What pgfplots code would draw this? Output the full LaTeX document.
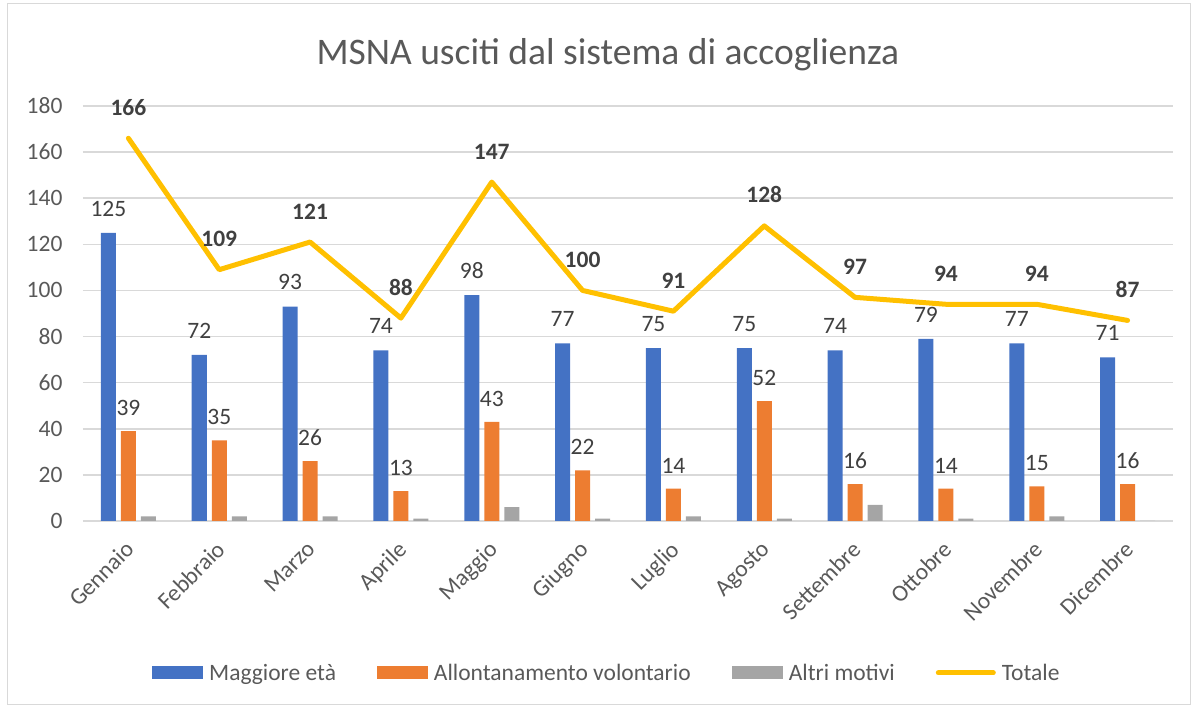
\documentclass[border=0pt]{standalone}
\usepackage{pgfplots}
\pgfplotsset{compat=1.18}
\usepackage{fontspec}
\setmainfont{Carlito}
\definecolor{cblue}{HTML}{4472C4}
\definecolor{corange}{HTML}{ED7D31}
\definecolor{cgray}{HTML}{A5A5A5}
\definecolor{cyel}{HTML}{FFC000}
\definecolor{gridgray}{HTML}{D9D9D9}
\definecolor{tickgray}{HTML}{595959}
\definecolor{labgray}{HTML}{404040}
\pgfplotsset{/pgf/number format/assume math mode=true}
\newcommand{\tfont}{\fontsize{23.5}{28}\selectfont}
\begin{document}
\begin{tikzpicture}[x=1pt,y=1pt]
\path[use as bounding box] (0,0) rectangle (1197,709);
\draw[color=gridgray, line width=1pt] (7,4) rectangle (1190,705);
\begin{axis}[
  at={(83pt,188pt)}, anchor=south west,
  scale only axis, width=1090pt, height=415pt,
  ymin=0, ymax=180, ytick={0,20,...,180},
  xmin=-0.5, xmax=11.5,
  xtick={0,...,11},
  xticklabels={Gennaio,Febbraio,Marzo,Aprile,Maggio,Giugno,Luglio,Agosto,Settembre,Ottobre,Novembre,Dicembre},
  axis line style={draw=none},
  major tick length=0pt,
  ymajorgrids, grid style={color=gridgray, line width=1.5pt},
  tick label style={font=\tfont, color=tickgray},
  yticklabel style={xshift=-17pt},
  xticklabel style={rotate=45, anchor=north east, xshift=-13pt, yshift=-6.5pt},
  clip=false,
  title={MSNA usciti dal sistema di accoglienza},
  title style={at={(0.4816,1.109)}, anchor=center, font=\fontsize{37.5}{45}\selectfont, color=tickgray},
  legend columns=4,
  legend style={at={(0.4806,-0.366)}, anchor=center, draw=none, fill=none,
    font=\tfont, text=tickgray,
    /tikz/every odd column/.append style={column sep=4pt},
    /tikz/every even column/.append style={column sep=39pt}},
]
\addplot[ybar, bar width=15pt, bar shift=-20pt, fill=cblue, draw=none,
  nodes near coords, every node near coord/.append style={font=\tfont, color=labgray, yshift=13pt, xshift=-20pt},
  legend image code/.code={\fill[cblue] (0pt,-6.5pt) rectangle (51pt,6.5pt);}]
  coordinates {(0,125)(1,72)(2,93)(3,74)(4,98)(5,77)(6,75)(7,75)(8,74)(9,79)(10,77)(11,71)};
\addlegendentry{Maggiore età}
\addplot[ybar, bar width=15pt, bar shift=0pt, fill=corange, draw=none,
  nodes near coords, every node near coord/.append style={font=\tfont, color=labgray, yshift=12pt},
  legend image code/.code={\fill[corange] (0pt,-6.5pt) rectangle (51pt,6.5pt);}]
  coordinates {(0,39)(1,35)(2,26)(3,13)(4,43)(5,22)(6,14)(7,52)(8,16)(9,14)(10,15)(11,16)};
\addlegendentry{Allontanamento volontario}
\addplot[ybar, bar width=15pt, bar shift=20pt, fill=cgray, draw=none,
  legend image code/.code={\fill[cgray] (0pt,-6.5pt) rectangle (51pt,6.5pt);}]
  coordinates {(0,2)(1,2)(2,2)(3,1)(4,6)(5,1)(6,2)(7,1)(8,7)(9,1)(10,2)(11,0)};
\addlegendentry{Altri motivi}
\addplot[sharp plot, color=cyel, line width=5pt, line join=round, line cap=round, mark=none,
  nodes near coords, every node near coord/.append style={font=\tfont\bfseries, color=labgray, yshift=17pt},
  legend image code/.code={\draw[cyel, line width=5pt, line cap=round] (0pt,0pt) -- (55pt,0pt);}]
  coordinates {(0,166)(1,109)(2,121)(3,88)(4,147)(5,100)(6,91)(7,128)(8,97)(9,94)(10,94)(11,87)};
\addlegendentry{Totale}
\end{axis}
\end{tikzpicture}
\end{document}
